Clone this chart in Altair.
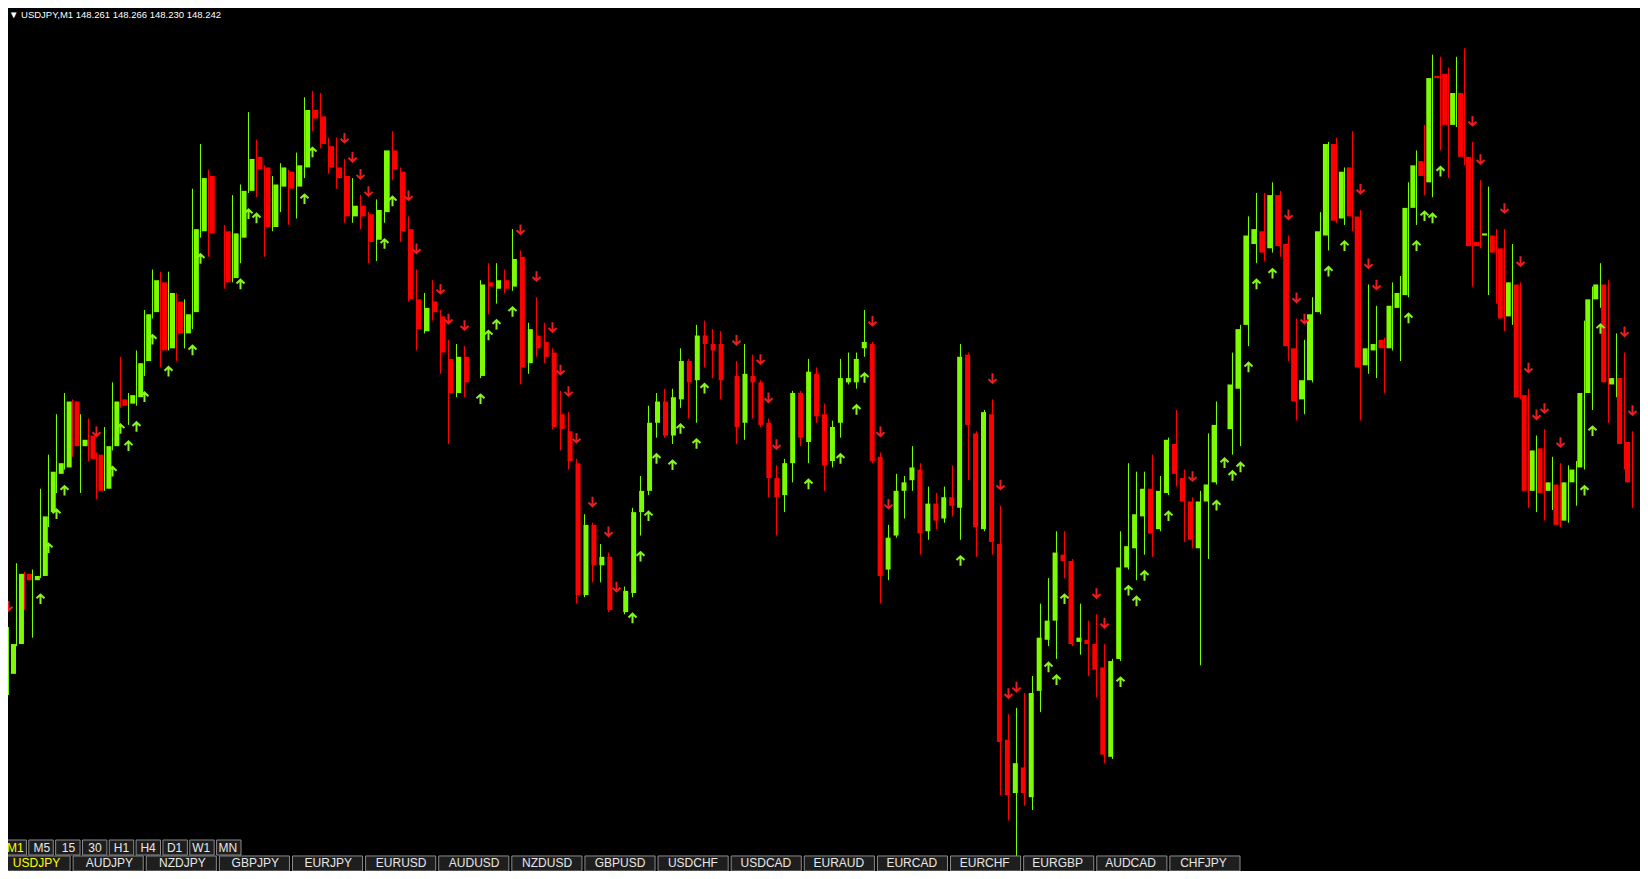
import altair as alt
import pandas as pd

symbol = "USDJPY"
timeframe = "M1"

opens = [
    148.235, 148.152, 148.166, 148.199, 148.196, 148.198, 148.228, 148.246, 148.249, 148.280,
    148.259, 148.264, 148.255, 148.239, 148.259, 148.281, 148.279, 148.282, 148.299, 148.322,
    148.336, 148.305, 148.327, 148.312, 148.322, 148.360, 148.386, 148.360, 148.360, 148.338,
    148.357, 148.379, 148.395, 148.390, 148.362, 148.381, 148.388, 148.381, 148.390, 148.417,
    148.414, 148.400, 148.390, 148.386, 148.367, 148.372, 148.368, 148.356, 148.369, 148.398,
    148.388, 148.361, 148.328, 148.313, 148.327, 148.320, 148.300, 148.284, 148.301, 148.291,
    148.292, 148.336, 148.333, 148.337, 148.334, 148.348, 148.298, 148.311, 148.308, 148.303,
    148.274, 148.266, 148.251, 148.189, 148.222, 148.203, 148.207, 148.181, 148.181, 148.190,
    148.228, 148.238, 148.270, 148.280, 148.264, 148.281, 148.299, 148.290, 148.311, 148.307,
    148.307, 148.291, 148.292, 148.270, 148.292, 148.289, 148.270, 148.244, 148.236, 148.251,
    148.284, 148.261, 148.293, 148.274, 148.252, 148.270, 148.289, 148.289, 148.305, 148.307,
    148.254, 148.201, 148.217, 148.238, 148.243, 148.248, 148.219, 148.232, 148.225, 148.235,
    148.230, 148.302, 148.265, 148.220, 148.274, 148.213, 148.121, 148.096, 148.108, 148.094,
    148.144, 148.168, 148.177, 148.208, 148.205, 148.167, 148.168, 148.166, 148.155, 148.113,
    148.159, 148.202, 148.211, 148.226, 148.239, 148.220, 148.237, 148.260, 148.244, 148.233,
    148.211, 148.233, 148.242, 148.267, 148.267, 148.286, 148.316, 148.354, 148.360, 148.352,
    148.377, 148.354, 148.305, 148.281, 148.290, 148.322, 148.358, 148.401, 148.366, 148.390,
    148.367, 148.297, 148.304, 148.309, 148.305, 148.324, 148.330, 148.371, 148.393, 148.383,
    148.433, 148.434, 148.410, 148.425, 148.395, 148.355, 148.358, 148.358, 148.352, 148.320,
    148.335, 148.283, 148.238, 148.258, 148.238, 148.241, 148.224, 148.242, 148.249, 148.284,
    148.328, 148.335, 148.288, 148.291, 148.261,
]

highs = [
    148.237, 148.174, 148.204, 148.200, 148.201, 148.239, 148.255, 148.274, 148.284, 148.281,
    148.274, 148.272, 148.256, 148.268, 148.289, 148.301, 148.284, 148.304, 148.323, 148.342,
    148.341, 148.341, 148.331, 148.328, 148.380, 148.401, 148.389, 148.362, 148.363, 148.377,
    148.382, 148.416, 148.403, 148.391, 148.386, 148.392, 148.389, 148.397, 148.423, 148.426,
    148.425, 148.404, 148.404, 148.394, 148.385, 148.377, 148.369, 148.375, 148.398, 148.407,
    148.390, 148.367, 148.342, 148.331, 148.337, 148.323, 148.309, 148.307, 148.306, 148.294,
    148.337, 148.345, 148.345, 148.342, 148.361, 148.351, 148.317, 148.329, 148.317, 148.305,
    148.285, 148.275, 148.253, 148.227, 148.223, 148.213, 148.209, 148.183, 148.193, 148.230,
    148.245, 148.278, 148.284, 148.286, 148.286, 148.305, 148.300, 148.316, 148.318, 148.314,
    148.313, 148.294, 148.299, 148.307, 148.302, 148.290, 148.272, 148.250, 148.253, 148.285,
    148.285, 148.300, 148.296, 148.279, 148.271, 148.300, 148.303, 148.303, 148.323, 148.308,
    148.256, 148.222, 148.246, 148.245, 148.259, 148.251, 148.240, 148.237, 148.240, 148.250,
    148.307, 148.303, 148.266, 148.276, 148.281, 148.231, 148.133, 148.136, 148.143, 148.151,
    148.185, 148.197, 148.219, 148.219, 148.206, 148.185, 148.177, 148.180, 148.166, 148.159,
    148.219, 148.251, 148.247, 148.247, 148.255, 148.245, 148.263, 148.276, 148.248, 148.235,
    148.238, 148.265, 148.280, 148.269, 148.303, 148.316, 148.367, 148.378, 148.378, 148.383,
    148.379, 148.358, 148.319, 148.309, 148.329, 148.369, 148.402, 148.404, 148.390, 148.407,
    148.370, 148.335, 148.325, 148.310, 148.336, 148.339, 148.383, 148.398, 148.410, 148.443,
    148.442, 148.437, 148.442, 148.446, 148.402, 148.384, 148.381, 148.361, 148.361, 148.354,
    148.336, 148.286, 148.264, 148.267, 148.254, 148.251, 148.250, 148.252, 148.318, 148.334,
    148.345, 148.337, 148.312, 148.303, 148.266,
]

lows = [
    148.151, 148.142, 148.165, 148.182, 148.169, 148.197, 148.221, 148.237, 148.248, 148.254,
    148.237, 148.252, 148.234, 148.238, 148.257, 148.277, 148.269, 148.278, 148.292, 148.319,
    148.296, 148.304, 148.299, 148.305, 148.314, 148.357, 148.348, 148.358, 148.333, 148.336,
    148.345, 148.378, 148.376, 148.348, 148.360, 148.369, 148.363, 148.366, 148.385, 148.407,
    148.399, 148.387, 148.380, 148.364, 148.364, 148.361, 148.345, 148.346, 148.364, 148.384,
    148.355, 148.327, 148.304, 148.312, 148.318, 148.293, 148.260, 148.282, 148.282, 148.288,
    148.291, 148.321, 148.326, 148.331, 148.332, 148.288, 148.293, 148.301, 148.298, 148.267,
    148.257, 148.248, 148.185, 148.188, 148.195, 148.195, 148.181, 148.178, 148.180, 148.188,
    148.217, 148.236, 148.263, 148.263, 148.260, 148.277, 148.272, 148.270, 148.296, 148.291,
    148.281, 148.288, 148.260, 148.262, 148.272, 148.268, 148.235, 148.217, 148.228, 148.242,
    148.259, 148.251, 148.270, 148.238, 148.249, 148.263, 148.288, 148.286, 148.301, 148.251,
    148.185, 148.196, 148.216, 148.225, 148.238, 148.208, 148.215, 148.220, 148.223, 148.226,
    148.215, 148.243, 148.207, 148.219, 148.208, 148.095, 148.083, 148.065, 148.090, 148.088,
    148.134, 148.165, 148.159, 148.197, 148.165, 148.161, 148.151, 148.141, 148.110, 148.112,
    148.158, 148.201, 148.196, 148.208, 148.207, 148.219, 148.236, 148.240, 148.214, 148.211,
    148.156, 148.206, 148.241, 148.261, 148.255, 148.259, 148.306, 148.345, 148.346, 148.350,
    148.348, 148.299, 148.271, 148.274, 148.289, 148.321, 148.351, 148.364, 148.363, 148.360,
    148.271, 148.293, 148.291, 148.284, 148.304, 148.299, 148.329, 148.363, 148.377, 148.376,
    148.398, 148.385, 148.409, 148.391, 148.334, 148.352, 148.330, 148.326, 148.313, 148.316,
    148.281, 148.230, 148.228, 148.224, 148.229, 148.221, 148.223, 148.231, 148.248, 148.276,
    148.324, 148.270, 148.282, 148.248, 148.230,
]

closes = [
    148.155, 148.166, 148.199, 148.196, 148.198, 148.226, 148.247, 148.251, 148.280, 148.259,
    148.262, 148.253, 148.238, 148.259, 148.280, 148.278, 148.283, 148.298, 148.321, 148.337,
    148.304, 148.331, 148.312, 148.321, 148.361, 148.385, 148.359, 148.360, 148.336, 148.359,
    148.379, 148.394, 148.389, 148.362, 148.382, 148.390, 148.380, 148.391, 148.417, 148.413,
    148.401, 148.390, 148.385, 148.367, 148.372, 148.367, 148.355, 148.370, 148.398, 148.389,
    148.360, 148.328, 148.314, 148.324, 148.322, 148.303, 148.284, 148.301, 148.289, 148.291,
    148.335, 148.334, 148.337, 148.333, 148.347, 148.296, 148.314, 148.305, 148.301, 148.268,
    148.267, 148.252, 148.189, 148.222, 148.203, 148.207, 148.182, 148.181, 148.191, 148.228,
    148.238, 148.270, 148.280, 148.264, 148.282, 148.299, 148.289, 148.311, 148.307, 148.304,
    148.290, 148.291, 148.268, 148.293, 148.289, 148.269, 148.244, 148.235, 148.251, 148.284,
    148.263, 148.294, 148.273, 148.250, 148.268, 148.291, 148.291, 148.300, 148.308, 148.252,
    148.198, 148.216, 148.238, 148.242, 148.249, 148.218, 148.232, 148.224, 148.235, 148.231,
    148.301, 148.269, 148.221, 148.275, 148.214, 148.120, 148.095, 148.110, 148.096, 148.143,
    148.169, 148.177, 148.209, 148.205, 148.166, 148.169, 148.166, 148.154, 148.114, 148.158,
    148.202, 148.212, 148.227, 148.239, 148.218, 148.238, 148.262, 148.246, 148.233, 148.215,
    148.233, 148.241, 148.269, 148.267, 148.288, 148.314, 148.358, 148.361, 148.350, 148.377,
    148.353, 148.306, 148.280, 148.290, 148.321, 148.360, 148.401, 148.365, 148.388, 148.367,
    148.296, 148.305, 148.307, 148.305, 148.325, 148.331, 148.371, 148.391, 148.386, 148.432,
    148.432, 148.410, 148.425, 148.395, 148.353, 148.353, 148.359, 148.350, 148.319, 148.336,
    148.282, 148.238, 148.257, 148.237, 148.242, 148.222, 148.242, 148.248, 148.284, 148.328,
    148.335, 148.289, 148.291, 148.260, 148.242,
]

# bars carrying a buy (up arrow) or sell (down arrow) signal
up_signal_bars = [5, 6, 7, 8, 14, 15, 16, 17, 18, 19, 21, 24, 25, 30, 31, 32, 38, 39, 48, 49,
                  60, 61, 62, 64, 79, 80, 81, 82, 84, 85, 87, 88, 101, 105, 107, 108, 120,
                  131, 132, 133, 140, 141, 142, 143, 146, 152, 153, 154, 155, 156, 157, 159,
                  166, 168, 176, 177, 178, 179, 180, 198, 199, 200]
down_signal_bars = [0, 1, 12, 43, 44, 45, 46, 51, 52, 55, 56, 58, 65, 67, 69, 70, 71, 72, 74,
                    76, 77, 92, 95, 96, 97, 109, 110, 111, 124, 125, 126, 127, 137, 138, 149,
                    161, 162, 163, 170, 171, 172, 184, 185, 188, 190, 191, 192, 193, 195, 203, 204]

timeframes = ["M1", "M5", "15", "30", "H1", "H4", "D1", "W1", "MN"]
symbols = ["USDJPY", "AUDJPY", "NZDJPY", "GBPJPY", "EURJPY", "EURUSD", "AUDUSD", "NZDUSD",
           "GBPUSD", "USDCHF", "USDCAD", "EURAUD", "EURCAD", "EURCHF", "EURGBP", "AUDCAD", "CHFJPY"]

# ---------------------------------------------------------------- tables
df = pd.DataFrame({"bar": list(range(len(opens))), "open": opens, "high": highs,
                   "low": lows, "close": closes})
df["dir"] = ["doji" if o == c else ("up" if c > o else "down") for o, c in zip(opens, closes)]
up_df = df[df["bar"].isin(up_signal_bars)]
down_df = df[df["bar"].isin(down_signal_bars)]

tf_df = pd.DataFrame({"label": timeframes, "row": "tf"})
tf_df["tcolor"] = ["#FFFF00" if t == timeframe else "#E8E8E8" for t in timeframes]
sym_df = pd.DataFrame({"label": symbols, "row": "sym"})
sym_df["tcolor"] = ["#FFFF00" if s == symbol else "#E8E8E8" for s in symbols]

header = f"\u25BC {symbol},{timeframe}  {opens[-1]:.3f} {highs[-1]:.3f} {lows[-1]:.3f} {closes[-1]:.3f}"
hdr_df = pd.DataFrame({"t": [header]})

W, H = 1632, 863
xs = alt.Scale(domain=[0.9375, 204.9375], nice=False, zero=False)
ys = alt.Scale(domain=[148.05933, 148.46494], nice=False, zero=False)
cs = alt.Scale(domain=["up", "down", "doji"], range=["#7CFC00", "#FF0000", "#000000"])

X = alt.X("bar:Q", scale=xs, axis=None)
COLOR = alt.Color("dir:N", scale=cs, legend=None)

wicks = alt.Chart(df).mark_rule(strokeWidth=1).encode(
    x=X, y=alt.Y("low:Q", scale=ys, axis=None), y2="high:Q", color=COLOR)

bodies = alt.Chart(df).mark_bar(size=5).encode(
    x=X, y=alt.Y("open:Q", scale=ys, axis=None), y2="close:Q", color=COLOR)

UP = "M0,1L0,-0.9M-0.8,-0.15L0,-0.9L0.8,-0.15"
DOWN = "M0,-1L0,0.9M-0.8,0.15L0,0.9L0.8,0.15"

up_arrows = alt.Chart(up_df).mark_point(
    shape=UP, size=100, filled=False, strokeWidth=2, color="#86F61E", opacity=1, yOffset=21
).encode(x=X, y=alt.Y("low:Q", scale=ys, axis=None))

down_arrows = alt.Chart(down_df).mark_point(
    shape=DOWN, size=100, filled=False, strokeWidth=2, color="#EE1C1C", opacity=1, yOffset=-21
).encode(x=X, y=alt.Y("high:Q", scale=ys, axis=None))

row_scale = alt.Scale(domain=["tf", "sym"], range=[832, 863], paddingInner=0.06, paddingOuter=0)
tf_x = alt.Scale(domain=timeframes, range=[-6, 233], paddingInner=0.09, paddingOuter=0)
sym_x = alt.Scale(domain=symbols, range=[-8, 1232], paddingInner=0.041, paddingOuter=0)

tf_boxes = alt.Chart(tf_df).mark_rect(fill="#1E1E1E", stroke="#8C8C8C", strokeWidth=1).encode(
    x=alt.X("label:N", scale=tf_x, axis=None), y=alt.Y("row:N", scale=row_scale, axis=None))
tf_text = alt.Chart(tf_df).mark_text(font="Liberation Sans", fontSize=12, baseline="middle",
                                     align="center").encode(
    x=alt.X("label:N", scale=tf_x, axis=None), y=alt.Y("row:N", scale=row_scale, axis=None),
    text="label:N", color=alt.Color("tcolor:N", scale=None))

sym_boxes = alt.Chart(sym_df).mark_rect(fill="#1E1E1E", stroke="#8C8C8C", strokeWidth=1).encode(
    x=alt.X("label:N", scale=sym_x, axis=None), y=alt.Y("row:N", scale=row_scale, axis=None))
sym_text = alt.Chart(sym_df).mark_text(font="Liberation Sans", fontSize=12, baseline="middle",
                                       align="center").encode(
    x=alt.X("label:N", scale=sym_x, axis=None), y=alt.Y("row:N", scale=row_scale, axis=None),
    text="label:N", color=alt.Color("tcolor:N", scale=None))

hdr = alt.Chart(hdr_df).mark_text(font="Liberation Sans", fontSize=9.5, align="left",
                                  baseline="alphabetic", color="#FFFFFF").encode(
    x=alt.value(1), y=alt.value(10), text="t:N")

chart = alt.layer(
    wicks, bodies, up_arrows, down_arrows, tf_boxes, tf_text, sym_boxes, sym_text, hdr
).resolve_scale(
    x="independent", y="independent", color="independent"
).properties(
    width=W, height=H, autosize=alt.AutoSizeParams(type="none"), padding=0, background="#000000"
).configure_view(strokeWidth=0)

chart.save("out.html", embed_options={"renderer": "svg", "actions": False})
